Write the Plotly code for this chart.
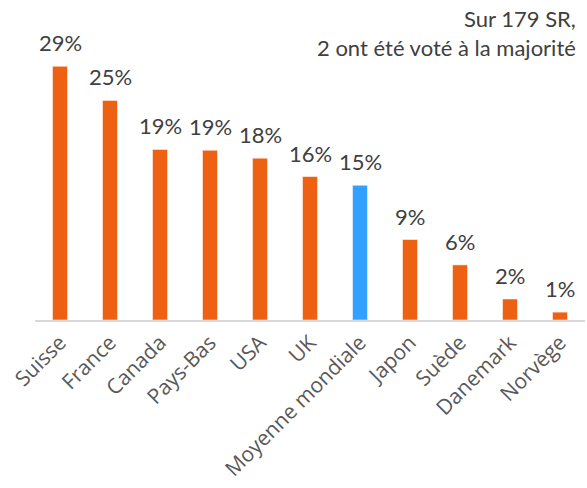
import plotly.graph_objects as go

categories = ["Suisse", "France", "Canada", "Pays-Bas", "USA", "UK",
              "Moyenne mondiale", "Japon", "Suède", "Danemark", "Norvège"]
values = [29, 25.1, 19.5, 19.4, 18.5, 16.4, 15.4, 9.2, 6.3, 2.4, 0.9]
labels = ["29%", "25%", "19%", "19%", "18%", "16%", "15%", "9%", "6%", "2%", "1%"]
highlight = "Moyenne mondiale"

ORANGE = "#EE6113"
BLUE = "#339FFF"
colors = [BLUE if c == highlight else ORANGE for c in categories]

FONT = "Lato, 'Open Sans', sans-serif"
TICKFONT = "'Open Sans', sans-serif"
TXT = "#404040"

fig = go.Figure(go.Bar(
    x=categories, y=values,
    marker=dict(color=colors, line=dict(color="rgba(255,255,255,0.5)", width=1)),
    cliponaxis=False,
))

label_annots = [dict(
    x=c, y=v, xref="x", yref="y", text=t, showarrow=False,
    xanchor="center", yanchor="bottom", yshift=8,
    font=dict(size=22, color=TXT, family=FONT),
) for c, v, t in zip(categories, values, labels)]

fig.update_layout(
    width=587, height=488,
    margin=dict(l=35, r=2, t=40, b=168),
    plot_bgcolor="white", paper_bgcolor="white",
    bargap=0.7,
    showlegend=False,
    font=dict(family=FONT, color=TXT, size=18),
    annotations=label_annots + [dict(
        text="Sur 179 SR,<br>2 ont été voté à la majorité",
        xref="paper", yref="paper", x=1, y=1, xanchor="right", yanchor="top",
        xshift=-7, yshift=37,
        align="right", showarrow=False,
        font=dict(size=22, color=TXT, family=FONT),
    )],
)
fig.update_xaxes(tickangle=-45, showline=True, linecolor="#D9D9D9", linewidth=2,
                 ticks="", tickfont=dict(size=21, color="#595959", family=TICKFONT))
fig.update_yaxes(range=[0, 32], visible=False, showgrid=False, zeroline=False)

fig.write_html("out.html", config={"displayModeBar": False})

with open("out.html", "r", encoding="utf-8") as f:
    html = f.read()
html = html.replace("<body>", "<body style=\"margin:0;overflow:hidden\">", 1)
with open("out.html", "w", encoding="utf-8") as f:
    f.write(html)
